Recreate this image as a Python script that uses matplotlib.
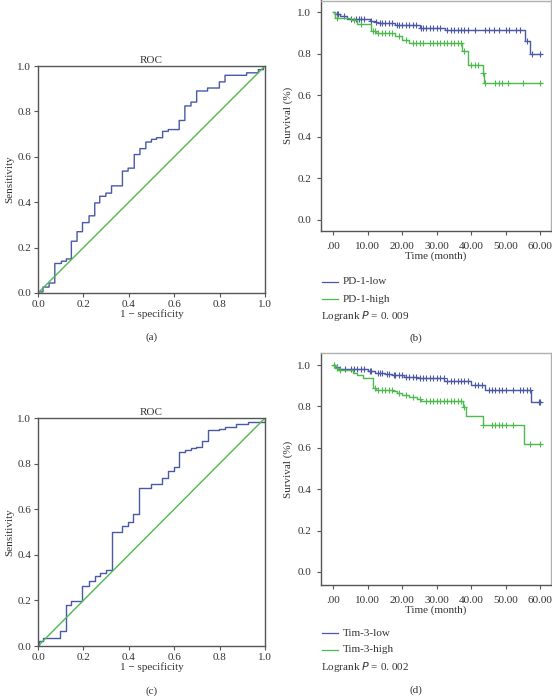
import numpy as np
from matplotlib import pyplot as plt
from matplotlib.lines import Line2D

plt.rcParams['font.family'] = ['Liberation Serif', 'DejaVu Serif']
plt.rcParams['font.size'] = 8

BLUE = '#4a58a6'
GREEN = '#4cba4c'
SPINE = '#555555'

# ROC curves (1 - specificity, sensitivity)
roc_a_x = [0, 0.005, 0.022, 0.022, 0.049, 0.049, 0.074, 0.074, 0.103, 0.103, 0.125, 0.125, 0.147, 0.147,
           0.172, 0.172, 0.196, 0.196, 0.225, 0.225, 0.25, 0.25, 0.272, 0.272, 0.299, 0.299, 0.324, 0.324,
           0.372, 0.372, 0.397, 0.397, 0.424, 0.424, 0.449, 0.449, 0.475, 0.475, 0.5, 0.5, 0.522, 0.522,
           0.549, 0.549, 0.574, 0.574, 0.622, 0.622, 0.647, 0.647, 0.674, 0.674, 0.699, 0.699, 0.747, 0.747,
           0.799, 0.799, 0.824, 0.824, 0.919, 0.919, 0.971, 0.971, 0.993, 0.993, 1.0]
roc_a_y = [0, 0.005, 0.005, 0.026, 0.026, 0.044, 0.044, 0.13, 0.13, 0.14, 0.14, 0.15, 0.15, 0.228,
           0.228, 0.27, 0.27, 0.31, 0.31, 0.34, 0.34, 0.397, 0.397, 0.426, 0.426, 0.44, 0.44, 0.472,
           0.472, 0.537, 0.537, 0.55, 0.55, 0.61, 0.61, 0.636, 0.636, 0.665, 0.665, 0.677, 0.677, 0.684,
           0.684, 0.712, 0.712, 0.72, 0.72, 0.76, 0.76, 0.824, 0.824, 0.841, 0.841, 0.89, 0.89, 0.903,
           0.903, 0.93, 0.93, 0.959, 0.959, 0.97, 0.97, 0.984, 0.984, 1.0, 1.0]

roc_c_x = [0, 0.005, 0.005, 0.022, 0.022, 0.099, 0.099, 0.122, 0.122, 0.147, 0.147, 0.196, 0.196,
           0.225, 0.225, 0.25, 0.25, 0.272, 0.272, 0.299, 0.299, 0.324, 0.324, 0.372, 0.372, 0.397, 0.397,
           0.419, 0.419, 0.446, 0.446, 0.496, 0.496, 0.547, 0.547, 0.574, 0.574, 0.599, 0.599, 0.622, 0.622,
           0.647, 0.647, 0.672, 0.672, 0.696, 0.696, 0.724, 0.724, 0.75, 0.75, 0.799, 0.799, 0.824, 0.824,
           0.872, 0.872, 0.926, 0.926, 1.0, 1.0]
roc_c_y = [0, 0, 0.02, 0.02, 0.037, 0.037, 0.066, 0.066, 0.179, 0.179, 0.196, 0.196, 0.264,
           0.264, 0.286, 0.286, 0.308, 0.308, 0.321, 0.321, 0.333, 0.333, 0.501, 0.501, 0.526, 0.526, 0.545,
           0.545, 0.578, 0.578, 0.695, 0.695, 0.71, 0.71, 0.736, 0.736, 0.768, 0.768, 0.784, 0.784, 0.85,
           0.85, 0.86, 0.86, 0.868, 0.868, 0.875, 0.875, 0.897, 0.897, 0.949, 0.949, 0.953, 0.953, 0.96,
           0.96, 0.975, 0.975, 0.981, 0.981, 1.0]

# Kaplan-Meier steps: event times, survival after each, and censor times
pd1_low_t = [0, 0.5, 2, 4, 10.5, 12, 13, 18, 25, 32.5, 55.5, 57]
pd1_low_s = [1, 0.99, 0.98, 0.97, 0.96, 0.955, 0.95, 0.94, 0.925, 0.913, 0.862, 0.80]
pd1_low_c = [1, 1.5, 3, 5, 6.5, 7.5, 8, 9, 11, 12.5, 13.5, 14, 15, 16, 17, 18.5, 19, 20, 21, 22, 23, 24,
             25.5, 26, 27, 28, 29, 30, 31, 33, 34, 35, 36, 37, 38, 39, 41, 44, 45, 46.5, 48, 50, 51, 53,
             54, 56, 57.5, 60]
pd1_high_t = [0, 0.5, 5, 7, 11, 12.5, 18, 20, 22, 37.2, 39, 43.3, 43.8]
pd1_high_s = [1, 0.973, 0.965, 0.945, 0.91, 0.90, 0.886, 0.867, 0.854, 0.815, 0.746, 0.706, 0.658]
pd1_high_c = [1, 6, 8, 11.5, 12, 13, 14, 15, 16, 17, 19, 21, 23, 24, 25, 26, 28, 29, 30, 31, 32, 33, 34,
              35, 36, 37, 38, 40, 41, 42, 43.5, 44, 47, 48, 49, 50.5, 55, 60]

tim3_low_t = [0, 0.5, 1.5, 10, 12, 15, 17, 20.5, 24.4, 32.2, 40, 44, 57.3]
tim3_low_s = [1, 0.99, 0.979, 0.97, 0.96, 0.955, 0.952, 0.944, 0.937, 0.925, 0.905, 0.877, 0.82]
tim3_low_c = [1, 2, 3.5, 5, 6, 7, 8, 9, 10.5, 11, 13, 13.5, 14, 15.5, 16, 17.5, 18, 19, 20, 21, 22, 23,
              24, 25, 26, 27, 28, 29, 30, 31, 32, 33, 34, 35, 36, 37, 38, 39, 41, 42, 43, 45, 46, 47, 48,
              49, 50, 52, 54, 55, 56, 57, 59.5, 60]
tim3_high_t = [0, 0.5, 1.5, 5.6, 7, 8.7, 11.4, 12.4, 17.2, 18.4, 19.9, 22, 24.4, 25.4, 37.5, 38.5, 43.3, 55.4]
tim3_high_s = [1, 0.985, 0.975, 0.96, 0.95, 0.935, 0.89, 0.88, 0.875, 0.865, 0.855, 0.845, 0.838, 0.825,
               0.795, 0.755, 0.71, 0.62]
tim3_high_c = [0.2, 1, 2, 12, 13, 14, 15, 16, 17, 19, 21, 23, 25, 27, 28, 29, 30, 31, 32, 33, 34, 35, 36,
               37, 37.8, 43.5, 46, 47, 48, 49, 50, 52, 57, 60]
t_end = 60.3

fig = plt.figure(figsize=(5.52, 6.96), dpi=100)


def roc_panel(rect, x, y, tag, tag_y):
    ax = fig.add_axes(rect)
    ax.plot(x, y, color=BLUE, lw=1)
    ax.plot([0, 1], [0, 1], color=GREEN, lw=1)
    ax.set_xlim(0, 1)
    ax.set_ylim(0, 1)
    ax.set_xticks(np.arange(0, 1.01, 0.2))
    ax.set_yticks(np.arange(0, 1.01, 0.2))
    ax.xaxis.set_major_formatter(plt.FormatStrFormatter('%.1f'))
    ax.yaxis.set_major_formatter(plt.FormatStrFormatter('%.1f'))
    for s in ax.spines.values():
        s.set_color(SPINE)
        s.set_linewidth(1)
    ax.tick_params(length=3, width=0.8, color=SPINE, labelsize=8, pad=2, labelcolor='#333333')
    ax.set_title('ROC', fontsize=8, pad=2, color='#333333')
    ax.set_xlabel('1 \u2212 specificity', fontsize=8, labelpad=0, color='#333333')
    ax.set_ylabel('Sensitivity', fontsize=8, labelpad=2, color='#333333')
    fig.text(rect[0] + rect[2] / 2, tag_y, tag, ha='center', va='center', fontsize=8, color='#333333')
    return ax


def km_line(ax, t, s, c, color):
    xs = list(t) + [t_end]
    ys = list(s) + [s[-1]]
    ax.step(xs, ys, where='post', color=color, lw=1)
    idx = np.searchsorted(t, c, side='right') - 1
    ax.plot(c, np.array(s)[idx], ls='none', marker='+', ms=4, mew=0.8, color=color)


def km_panel(rect, ylim, low, high, names, pval, tag, leg_y, tag_y):
    ax = fig.add_axes(rect)
    km_line(ax, *low, BLUE)
    km_line(ax, *high, GREEN)
    ax.set_xlim(-3.57, 63.1)
    ax.set_ylim(*ylim)
    ax.set_xticks(np.arange(0, 61, 10))
    ax.set_xticklabels(['.00', '10.00', '20.00', '30.00', '40.00', '50.00', '60.00'])
    ax.set_yticks(np.arange(0, 1.01, 0.2))
    ax.yaxis.set_major_formatter(plt.FormatStrFormatter('%.1f'))
    for side in ['left', 'bottom']:
        ax.spines[side].set_color(SPINE)
        ax.spines[side].set_linewidth(1)
    for side in ['top', 'right']:
        ax.spines[side].set_color('#b0b0b0')
        ax.spines[side].set_linewidth(1)
    ax.tick_params(length=3, width=0.8, color=SPINE, labelsize=8, pad=4, labelcolor='#333333')
    ax.tick_params(axis='x', pad=5)
    ax.set_xlabel('Time (month)', fontsize=8, labelpad=0, color='#333333')
    ax.set_ylabel('Survival (%)', fontsize=8, labelpad=3, color='#333333')
    x0 = 321 / 552
    for i, (name, col) in enumerate(zip(names, [BLUE, GREEN])):
        yy = 1 - (leg_y + 17 * i) / 696
        fig.add_artist(Line2D([x0 + 1 / 552, x0 + 17 / 552], [yy, yy], color=col, lw=0.9))
        fig.text(x0 + 22 / 552, yy, name, va='center', fontsize=8, color='#333333')
    fig.text(x0, 1 - (leg_y + 34) / 696, 'Logrank $\\it{P}$ = 0. ' + pval, va='center', fontsize=8,
             color='#333333')
    fig.text(416 / 552, 1 - tag_y / 696, tag, ha='center', va='center', fontsize=8, color='#333333')
    return ax


roc_panel([38 / 552, 1 - 293 / 696, 227 / 552, 227 / 696], roc_a_x, roc_a_y, '(a)', 1 - 337 / 696)
roc_panel([38 / 552, 1 - 646 / 696, 227 / 552, 228 / 696], roc_c_x, roc_c_y, '(c)', 1 - 691 / 696)

km_panel([321 / 552, 1 - 231 / 696, 230 / 552, 230.5 / 696], (-0.053, 1.057),
         (pd1_low_t, pd1_low_s, pd1_low_c), (pd1_high_t, pd1_high_s, pd1_high_c),
         ['PD-1-low', 'PD-1-high'], '009', '(b)', 282, 338)
km_panel([321 / 552, 1 - 585 / 696, 230 / 552, 232 / 696], (-0.063, 1.058),
         (tim3_low_t, tim3_low_s, tim3_low_c), (tim3_high_t, tim3_high_s, tim3_high_c),
         ['Tim-3-low', 'Tim-3-high'], '002', '(d)', 633, 690)

fig.savefig('out.png', dpi=100)
